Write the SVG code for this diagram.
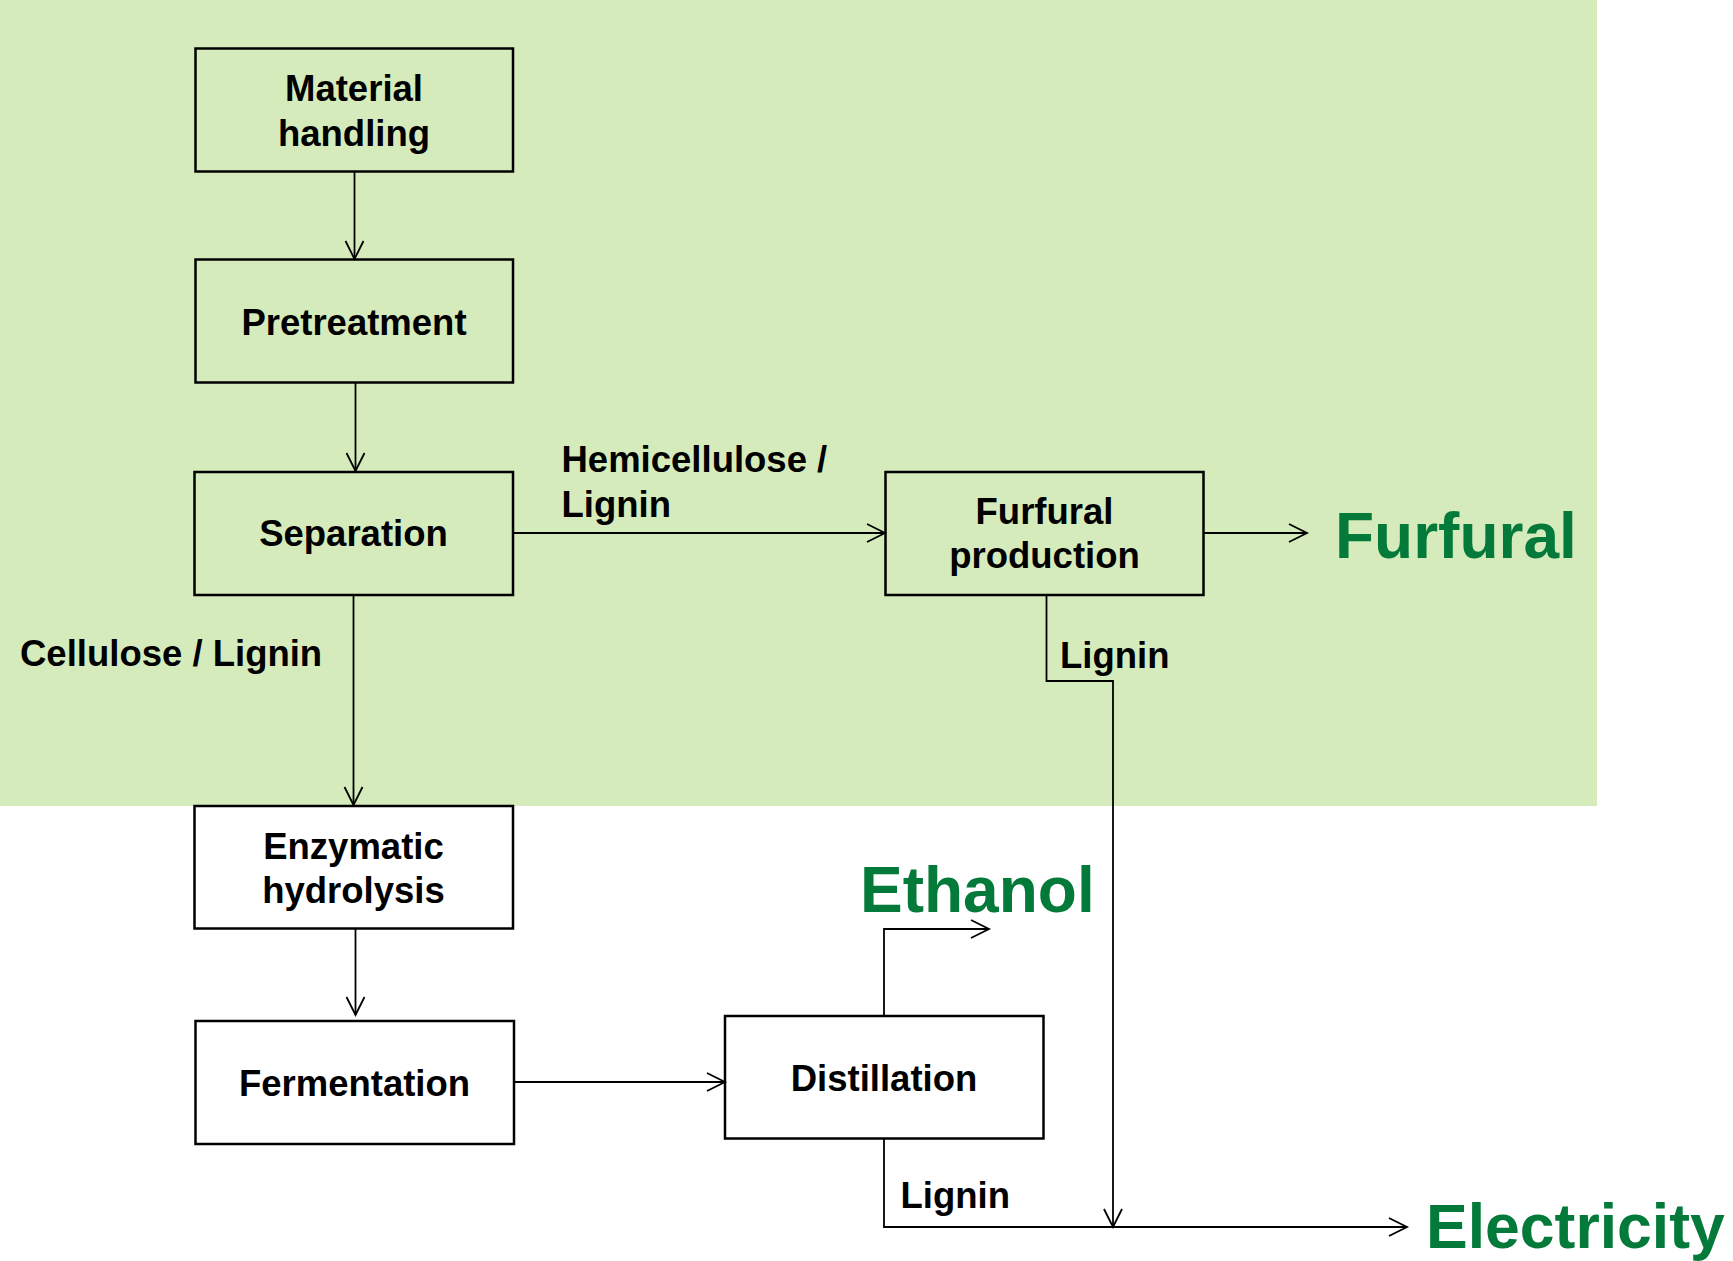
<svg xmlns="http://www.w3.org/2000/svg" width="1733" height="1261" viewBox="0 0 1733 1261">
<style>
.box{fill:none;stroke:#000;stroke-width:2.5}
.lbl{font-family:"Liberation Sans",Arial,sans-serif;font-weight:bold;font-size:36.5px;fill:#000}
.c{text-anchor:middle}
.prod{font-family:"Liberation Sans",Arial,sans-serif;font-weight:bold;font-size:64px;fill:#037a3a}
.conn{fill:none;stroke:#000;stroke-width:1.8}
</style>
<defs>
<marker id="arr" markerUnits="userSpaceOnUse" markerWidth="24" markerHeight="24" viewBox="-20 -12 24 24" refX="0" refY="0" orient="auto">
<path d="M-18,-9 L0,0 L-18,9" fill="none" stroke="#000" stroke-width="1.8"/>
</marker>
</defs>
<rect x="0" y="0" width="1597" height="806" fill="#d5ebbc"/>
<g id="connectors">
<path class="conn" d="M354.5,171 V259" marker-end="url(#arr)"/>
<path class="conn" d="M355.5,383 V471" marker-end="url(#arr)"/>
<path class="conn" d="M353.5,595 V805" marker-end="url(#arr)"/>
<path class="conn" d="M355.5,929 V1015" marker-end="url(#arr)"/>
<path class="conn" d="M513,533 H885" marker-end="url(#arr)"/>
<path class="conn" d="M1204,533 H1307" marker-end="url(#arr)"/>
<path class="conn" d="M1046.5,595 V681 H1113 V1227" marker-end="url(#arr)"/>
<path class="conn" d="M514,1082 H725" marker-end="url(#arr)"/>
<path class="conn" d="M884,1016 V929 H989" marker-end="url(#arr)"/>
<path class="conn" d="M884,1139 V1227 H1407" marker-end="url(#arr)"/>
</g>
<g id="material-handling">
<rect class="box" x="195.5" y="48.5" width="317.5" height="123"/>
<text class="lbl c" x="354" y="101">Material</text>
<text class="lbl c" x="354" y="145.5">handling</text>
</g>
<g id="pretreatment">
<rect class="box" x="195.5" y="259.5" width="317.5" height="123"/>
<text class="lbl c" x="354" y="334.5">Pretreatment</text>
</g>
<g id="separation">
<rect class="box" x="194.5" y="472" width="318.5" height="123"/>
<text class="lbl c" x="353.5" y="546">Separation</text>
</g>
<g id="furfural-production">
<rect class="box" x="885.5" y="472" width="318" height="123"/>
<text class="lbl c" x="1044.5" y="524">Furfural</text>
<text class="lbl c" x="1044.5" y="568">production</text>
</g>
<g id="enzymatic-hydrolysis">
<rect class="box" x="194.5" y="806" width="318.5" height="122.5"/>
<text class="lbl c" x="353.5" y="858.5">Enzymatic</text>
<text class="lbl c" x="353.5" y="903">hydrolysis</text>
</g>
<g id="fermentation">
<rect class="box" x="195.5" y="1021" width="318.5" height="123"/>
<text class="lbl c" x="354.5" y="1096">Fermentation</text>
</g>
<g id="distillation">
<rect class="box" x="725" y="1016" width="318.5" height="122.5"/>
<text class="lbl c" x="884" y="1091">Distillation</text>
</g>
<g id="labels">
<text class="lbl" x="561.5" y="472">Hemicellulose /</text>
<text class="lbl" x="561.5" y="517">Lignin</text>
<text class="lbl" x="20" y="666">Cellulose / Lignin</text>
<text class="lbl" x="1060" y="667.5">Lignin</text>
<text class="lbl" x="900.5" y="1208">Lignin</text>
</g>
<g id="products">
<text class="prod" x="1335" y="558">Furfural</text>
<text class="prod" x="860" y="912">Ethanol</text>
<text class="prod" x="1426" y="1248" style="font-size:62.5px">Electricity</text>
</g>
</svg>
